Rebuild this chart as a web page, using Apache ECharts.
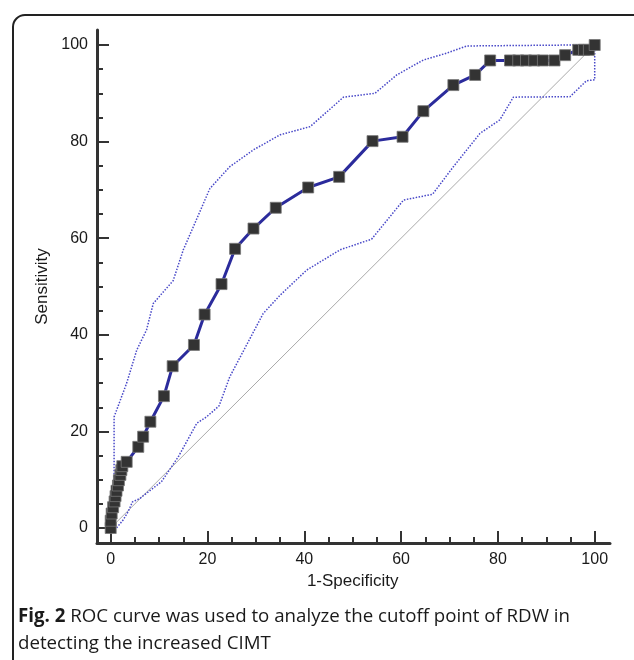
<!DOCTYPE html>
<html>
<head>
<meta charset="utf-8">
<script src="https://cdn.jsdelivr.net/npm/echarts@6/dist/echarts.min.js"></script>
<style>
  html, body { margin: 0; padding: 0; background: #fff; }
  #chart { width: 634px; height: 660px; }
</style>
</head>
<body>
<div id="chart"></div>
<script>
// ROC curve points (1-Specificity, Sensitivity)
const rocX = [0, 0, 0.2, 0.5, 0.8, 1.0, 1.2, 1.5, 1.7, 2.0, 2.2, 2.4, 3.3, 5.7, 6.7, 8.2, 11.0, 12.8, 17.2, 19.4, 22.9, 25.7, 29.5, 34.1, 40.8, 47.2, 54.1, 60.3, 64.6, 70.8, 75.3, 78.4, 82.5, 84.2, 85.8, 87.5, 89.3, 91.7, 93.9, 96.6, 97.8, 98.8, 100];
const rocY = [0, 1.5, 3, 4.3, 5.5, 6.6, 7.7, 8.8, 9.9, 11, 12, 12.8, 13.7, 16.8, 18.9, 22.0, 27.3, 33.5, 37.9, 44.2, 50.5, 57.8, 62.0, 66.3, 70.5, 72.7, 80.1, 81.0, 86.3, 91.7, 93.8, 96.8, 96.8, 96.8, 96.8, 96.8, 96.8, 96.8, 97.9, 99, 99, 99, 100];

// upper confidence bound
const ciUpX = [0, 0.5, 0.7, 0.7, 1.1, 3.3, 5.4, 7.4, 8.8, 12.9, 15.0, 20.5, 24.6, 29.5, 35.0, 41.2, 48.1, 54.6, 59.1, 64.6, 69.4, 73.6, 95.5, 100];
const ciUpY = [0, 4, 6.5, 23, 23.4, 30, 36.9, 41, 46.5, 51.2, 57.6, 70.3, 74.8, 78.3, 81.4, 83.1, 89.2, 90.0, 93.8, 96.9, 98.3, 99.8, 100, 100];

// lower confidence bound
const ciLoX = [0, 1.2, 2.6, 3.6, 4.5, 6.0, 10.5, 14.0, 17.8, 19.8, 22.4, 24.6, 31.5, 35.0, 40.5, 47.4, 53.9, 60.5, 66.5, 70.8, 76.3, 80.4, 83.2, 94.9, 98.3, 100, 100];
const ciLoY = [0, 0, 1.7, 3.4, 5.4, 6.1, 9.6, 14.8, 21.7, 23, 25.3, 31.3, 44.4, 48.2, 53.4, 57.6, 59.8, 67.9, 69.1, 74.8, 81.7, 84.5, 89.2, 89.3, 92.6, 92.8, 100];

// reference diagonal
const diagX = [0, 100];
const diagY = [0, 100];

const xTicks = [0, 20, 40, 60, 80, 100];
const yTicks = [0, 20, 40, 60, 80, 100];

const zip = (xs, ys) => xs.map((x, i) => [x, ys[i]]);

const chart = echarts.init(document.getElementById('chart'));
const font = 'Liberation Sans, Arial, sans-serif';

const option = {
    backgroundColor: '#fff',
    animation: false,
    title: {
        left: 13,
        top: 598,
        text: '{b|Fig. 2} ROC curve was used to analyze the cutoff point of RDW in\ndetecting the increased CIMT',
        textStyle: {
            fontFamily: 'Open Sans',
            fontSize: 18.7,
            fontWeight: 'normal',
            color: '#1a1a1a',
            lineHeight: 27,
            rich: {
                b: { fontFamily: 'Open Sans', fontSize: 18.7, fontWeight: 'bold', color: '#1a1a1a', lineHeight: 27 }
            }
        }
    },
    graphic: [{
        type: 'rect',
        shape: { x: 13, y: 15, width: 640, height: 700, r: 12 },
        style: { fill: 'none', stroke: '#222', lineWidth: 2 },
        silent: true
    }],
    grid: [
        { left: 110.7, right: 39.3, top: 45, bottom: 132 },
        { left: 97, right: 24, top: 30, bottom: 117 }
    ],
    xAxis: [{
        gridIndex: 0,
        type: 'value',
        min: 0, max: 100, interval: 20,
        offset: 15,
        name: '1-Specificity',
        nameLocation: 'middle',
        nameGap: 29,
        nameTextStyle: { fontFamily: font, fontSize: 17, color: '#1a1a1a' },
        axisLine: { show: false, onZero: false },
        axisTick: { show: true, inside: true, length: 12, lineStyle: { color: '#333', width: 2 } },
        minorTick: { show: true, splitNumber: 4, length: 6, lineStyle: { color: '#333', width: 2 } },
        axisLabel: {
            margin: 9, fontFamily: font, fontSize: 16, color: '#1a1a1a',
            formatter: v => xTicks.includes(v) ? String(v) : ''
        },
        splitLine: { show: false }
    }, {
        gridIndex: 1,
        type: 'value', min: 0, max: 1,
        axisLine: { show: true, onZero: false, lineStyle: { color: '#333', width: 3 } },
        axisTick: { show: false }, axisLabel: { show: false }, splitLine: { show: false }
    }],
    yAxis: [{
        gridIndex: 0,
        type: 'value',
        min: 0, max: 100, interval: 20,
        offset: 13.7,
        name: 'Sensitivity',
        nameLocation: 'middle',
        nameGap: 43,
        nameTextStyle: { fontFamily: font, fontSize: 17, color: '#1a1a1a' },
        axisLine: { show: false, onZero: false },
        axisTick: { show: true, inside: true, length: 12, lineStyle: { color: '#333', width: 2 } },
        minorTick: { show: true, splitNumber: 4, length: 6, lineStyle: { color: '#333', width: 2 } },
        axisLabel: {
            margin: 9, fontFamily: font, fontSize: 16, color: '#1a1a1a',
            formatter: v => yTicks.includes(v) ? String(v) : ''
        },
        splitLine: { show: false }
    }, {
        gridIndex: 1,
        type: 'value', min: 0, max: 1,
        axisLine: { show: true, onZero: false, lineStyle: { color: '#333', width: 3 } },
        axisTick: { show: false }, axisLabel: { show: false }, splitLine: { show: false }
    }],
    series: [{
        type: 'line',
        data: zip(diagX, diagY),
        showSymbol: false,
        clip: false,
        lineStyle: { color: '#aaa', width: 1 }
    }, {
        type: 'line',
        data: zip(ciUpX, ciUpY),
        showSymbol: false,
        clip: false,
        lineStyle: { color: '#4848c8', width: 1.5, type: 'dotted' }
    }, {
        type: 'line',
        data: zip(ciLoX, ciLoY),
        showSymbol: false,
        clip: false,
        lineStyle: { color: '#4848c8', width: 1.5, type: 'dotted' }
    }, {
        type: 'line',
        data: zip(rocX, rocY),
        symbol: 'rect',
        symbolSize: 11,
        showAllSymbol: true,
        clip: false,
        lineStyle: { color: '#2b2b9c', width: 3 },
        itemStyle: { color: '#333', borderColor: '#777', borderWidth: 0.8 }
    }]
};

chart.setOption(option);
</script>
</body>
</html>
